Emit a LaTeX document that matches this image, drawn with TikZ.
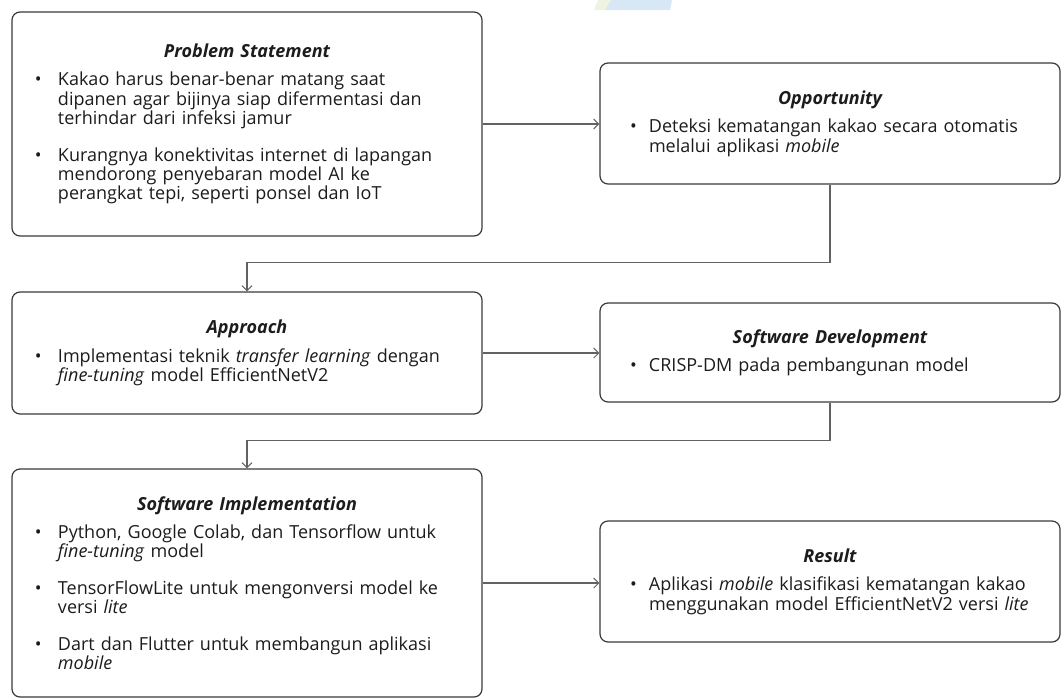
\documentclass[tikz,border=0pt]{standalone}
\usepackage{fontspec}
\setmainfont{Open Sans}
\usetikzlibrary{arrows.meta}
\definecolor{boxline}{HTML}{3A3A3A}
\definecolor{connline}{HTML}{626262}
\definecolor{txtcol}{HTML}{1C1C1C}
\definecolor{wmblue}{HTML}{D8E7F5}
\definecolor{wmgreen}{HTML}{EEF4DF}
\newcommand{\bul}[2][24pt]{\par\hangindent=#1\hangafter=1\noindent\makebox[#1][l]{\kern1pt•}#2\par}
\newcommand{\ttl}[1]{{\centering\bfseries\itshape #1\par}\vspace{9pt}}
\newcommand{\bgap}{\vspace{17pt}}
\tikzset{
  card/.style={draw=boxline, line width=1.2pt, rounded corners=8pt, fill=white,
    text=txtcol, font=\fontsize{18}{19.4}\selectfont, anchor=center},
  leftcard/.style={card, minimum width=470pt, inner xsep=22pt, text width=426pt},
  rightcard/.style={card, minimum width=460pt, inner xsep=29pt, text width=402pt},
  flow/.style={draw=connline, line width=1.4pt, -{Straight Barb[length=5pt,width=10pt,line width=1pt]}}
}
\begin{document}
\begin{tikzpicture}[x=1pt,y=-1pt]
\useasboundingbox (0,0) rectangle (1062,699);
% faint watermark at top
\fill[wmgreen] (598,0) -- (611,0) -- (605,10) -- (594,10) -- cycle;
\fill[wmblue] (611,0) -- (672,0) -- (670,10) -- (605,10) -- cycle;

\node[leftcard, minimum height=224pt] (ps) at (247,124) {%
  \raggedright
  \ttl{Problem Statement}
  \bul{Kakao harus benar-benar matang saat\newline dipanen agar bijinya siap difermentasi dan\newline terhindar dari infeksi jamur}
  \bgap
  \bul{Kurangnya konektivitas internet di lapangan\newline mendorong penyebaran model AI ke\newline perangkat tepi, seperti ponsel dan IoT}};

\node[rightcard, minimum height=121pt] (op) at (830,123.5) {%
  \raggedright
  \ttl{Opportunity}
  \bul[20pt]{Deteksi kematangan kakao secara otomatis\newline melalui aplikasi \textit{mobile}}};

\node[leftcard, minimum height=122pt] (ap) at (247,353) {%
  \raggedright
  \ttl{Approach}
  \bul{Implementasi teknik \textit{transfer learning} dengan\newline \textit{fine-tuning} model EfficientNetV2}};

\node[rightcard, minimum height=99pt] (sd) at (830,352.5) {%
  \raggedright
  \ttl{Software Development}
  \bul[20pt]{CRISP-DM pada pembangunan model}};

\node[leftcard, minimum height=228pt] (si) at (247,583) {%
  \raggedright
  \ttl{Software Implementation}
  \bul{Python, Google Colab, dan Tensorflow untuk\newline \textit{fine-tuning} model}
  \bgap
  \bul{TensorFlowLite untuk mengonversi model ke\newline versi \textit{lite}}
  \bgap
  \bul{Dart dan Flutter untuk membangun aplikasi\newline \textit{mobile}}};

\node[rightcard, minimum height=121pt] (rs) at (830,581.5) {%
  \raggedright
  \ttl{Result}
  \bul[20pt]{Aplikasi \textit{mobile} klasifikasi kematangan kakao\newline menggunakan model EfficientNetV2 versi \textit{lite}}};

\draw[flow] (ps.east) -- (ps.east -| op.west);
\draw[flow] (op.south) -- ++(0,78) -| (ap.north);
\draw[flow] (ap.east) -- (ap.east -| sd.west);
\draw[flow] (sd.south) -- ++(0,38) -| (si.north);
\draw[flow] (si.east) -- (si.east -| rs.west);
\end{tikzpicture}
\end{document}
